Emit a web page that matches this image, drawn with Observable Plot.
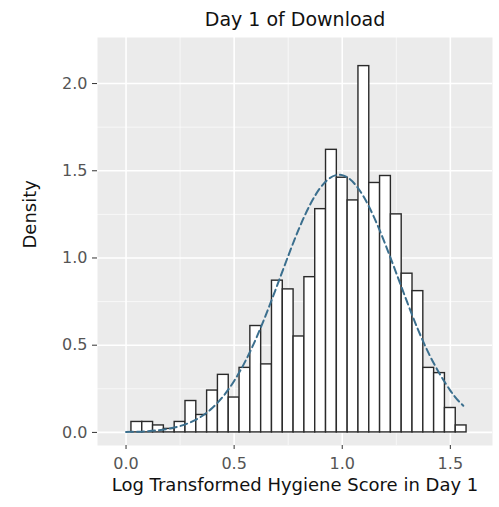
<!DOCTYPE html>
<html>
<head>
<meta charset="utf-8">
<script src="https://cdn.jsdelivr.net/npm/d3@7"></script>
<script src="https://cdn.jsdelivr.net/npm/@observablehq/plot@0.6"></script>
<style>
  html, body { margin: 0; padding: 0; background: #ffffff; }
  #chart svg { display: block; }
</style>
</head>
<body>
<div id="chart"></div>
<script>
// Histogram bins (centre of each 0.05-wide bin) and their densities
const binCenters = [0.05, 0.10, 0.15, 0.20, 0.25, 0.30, 0.35, 0.40, 0.45, 0.50,
                    0.55, 0.60, 0.65, 0.70, 0.75, 0.80, 0.85, 0.90, 0.95, 1.00,
                    1.05, 1.10, 1.15, 1.20, 1.25, 1.30, 1.35, 1.40, 1.45, 1.50, 1.55];
const densities  = [0.06, 0.06, 0.04, 0.02, 0.06, 0.18, 0.10, 0.24, 0.33, 0.20,
                    0.37, 0.61, 0.39, 0.87, 0.82, 0.55, 0.89, 1.28, 1.62, 1.46,
                    1.33, 2.10, 1.43, 1.47, 1.25, 0.91, 0.81, 0.37, 0.34, 0.14, 0.04];
const binWidth = 0.05;

// Dashed density curve
const curveX = [0.00, 0.10, 0.20, 0.30, 0.40, 0.50, 0.60, 0.70, 0.80, 0.90,
                1.00, 1.10, 1.20, 1.30, 1.40, 1.50, 1.56];
const curveY = [0.002, 0.007, 0.022, 0.059, 0.141, 0.295, 0.534, 0.846, 1.168, 1.405,
                1.475, 1.349, 1.076, 0.748, 0.453, 0.240, 0.153];

// Axis ticks
const xTicks = [0, 0.5, 1.0, 1.5];
const xMinor = [0.25, 0.75, 1.25];
const yTicks = [0, 0.5, 1.0, 1.5, 2.0];
const yMinor = [0.25, 0.75, 1.25, 1.75];

const titleText = "Day 1 of Download";
const xTitle = "Log Transformed Hygiene Score in Day 1";
const yTitle = "Density";

const bins = binCenters.map((c, i) => ({c, d: densities[i]}));
const curve = curveX.map((x, i) => ({x, y: curveY[i]}));

const font = "'DejaVu Sans', 'Liberation Sans', sans-serif";

const chart = Plot.plot({
  width: 499,
  height: 507,
  marginTop: 37,
  marginBottom: 62,
  marginLeft: 97,
  marginRight: 7,
  style: {fontFamily: font, background: "#ffffff", color: "#222"},
  x: {domain: [-0.132, 1.695], label: null},
  y: {domain: [-0.075, 2.264], label: null},
  marks: [
    Plot.frame({fill: "#ebebeb", stroke: null}),
    Plot.ruleY(yMinor, {stroke: "#ffffff", strokeWidth: 0.8, strokeOpacity: 0.8}),
    Plot.ruleX(xMinor, {stroke: "#ffffff", strokeWidth: 0.8, strokeOpacity: 0.8}),
    Plot.ruleY(yTicks, {stroke: "#ffffff", strokeWidth: 1.6}),
    Plot.ruleX(xTicks, {stroke: "#ffffff", strokeWidth: 1.6}),
    Plot.rectY(bins, {
      x1: d => d.c - binWidth / 2,
      x2: d => d.c + binWidth / 2,
      y: "d",
      fill: "#ffffff",
      stroke: "#2a2a2a",
      strokeWidth: 1.4,
      inset: 0
    }),
    Plot.line(curve, {
      x: "x", y: "y",
      stroke: "#3b6f8e",
      strokeWidth: 2,
      strokeDasharray: "7,4",
      curve: "natural"
    }),
    Plot.axisX({
      ticks: xTicks, tickFormat: d3.format(".1f"),
      tickSize: 4, tickPadding: 8, fontSize: 16, stroke: "#333", color: "#555", label: null
    }),
    Plot.axisY({
      ticks: yTicks, tickFormat: d3.format(".1f"),
      tickSize: 5, tickPadding: 5, fontSize: 16, stroke: "#333", color: "#555", label: null
    }),
    Plot.text([titleText], {frameAnchor: "top", dy: -18, fontSize: 19, fill: "#111", lineAnchor: "middle"}),
    Plot.text([xTitle], {frameAnchor: "bottom", dy: 40, fontSize: 18, fill: "#111", lineAnchor: "middle"}),
    Plot.text([yTitle], {frameAnchor: "left", dx: -67, dy: 7, rotate: -90, fontSize: 18, fill: "#111", lineAnchor: "middle"})
  ]
});

document.getElementById("chart").appendChild(chart);
</script>
</body>
</html>
